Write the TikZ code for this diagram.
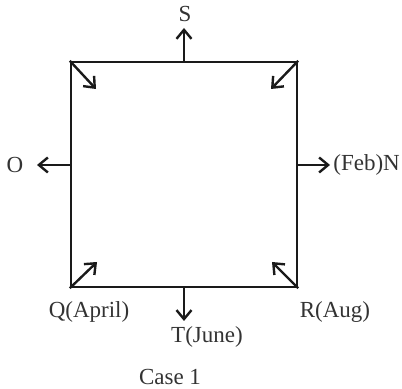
\documentclass[tikz,border=0pt]{standalone}
\usepackage{fontspec}
\setmainfont{Liberation Serif}
\usetikzlibrary{arrows.meta}
\definecolor{edgegray}{HTML}{1A1A1A}
\definecolor{labelgray}{HTML}{333333}
\tikzset{
  pointer/.style={-{Straight Barb[length=4.5pt,width=7.5pt]}, line width=1.2pt, draw=edgegray},
  tag/.style={font=\fontsize{11.5}{13}\selectfont, text=labelgray, inner sep=1pt}
}

\begin{document}
\begin{tikzpicture}[x=0.5pt, y=-0.5pt]
  \useasboundingbox (0,0) rectangle (402,389);
  % the square and where its arrows end
  \node[draw=edgegray, line width=1.2pt, minimum width=113pt, minimum height=112.5pt,
        inner sep=0pt] (square) at (184,174.5) {};
  \coordinate (up) at (184,28);
  \coordinate (down) at (184,321);
  \coordinate (left) at (37,165);
  \coordinate (right) at (330,165);
  \coordinate (nwin) at (96,89);
  \coordinate (nein) at (271,89);
  \coordinate (swin) at (97,262);
  \coordinate (sein) at (272,262);
  % labels
  \node[tag] (S) at (185,14) {S};
  \node[tag] (O) at (15,165) {O};
  \node[tag, anchor=west] (N) at (331,165) {(Feb)N};
  \node[tag] (Q) at (89,312) {Q(April)};
  \node[tag] (T) at (207,337) {T(June)};
  \node[tag] (R) at (335,312) {R(Aug)};
  \node[tag] (case) at (170,377) {Case 1};
  % arrows
  \draw[pointer] (square.north) -- (up);
  \draw[pointer] (square.south) -- (down);
  \draw[pointer] (square.west |- left) -- (left);
  \draw[pointer] (square.east |- right) -- (right);
  \draw[pointer] (square.north west) -- (nwin);
  \draw[pointer] (square.north east) -- (nein);
  \draw[pointer] (square.south west) -- (swin);
  \draw[pointer] (square.south east) -- (sein);
\end{tikzpicture}
\end{document}
